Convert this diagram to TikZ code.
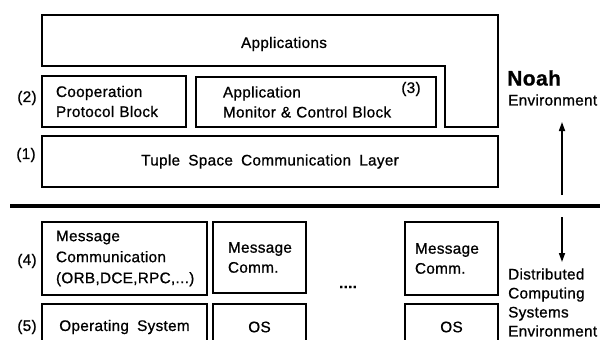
\documentclass[tikz,border=0pt]{standalone}
\usepackage{fontspec}
\setmainfont{Liberation Sans}[LetterSpace=2,WordSpace=1.8,FakeBold=0.8]
\usetikzlibrary{arrows.meta}
\begin{document}
\begin{tikzpicture}[x=1pt,y=-1pt,
  txt/.style={font=\fontsize{15.3}{20}\selectfont},
  box/.style={txt,draw,line width=1.8pt,rectangle,inner ysep=0pt},
  lbox/.style={box,align=left},
  cbox/.style={box,align=center},
  lbl/.style={txt,inner sep=0pt},
  arr/.style={line width=1.6pt,-{Triangle[length=9pt,width=6pt]}}]
\useasboundingbox (0,0) rectangle (600,340);
\clip (0,0) rectangle (600,340);
% Applications (L-shaped)
\draw[line width=1.8pt] (42,15) -- (498,15) -- (498,127) -- (445,127) -- (445,66) -- (42,66) -- cycle;
\node[lbl] (apps) at (284,44) {Applications};
% layer (2) and (3)
\node[lbox,minimum width=144pt,minimum height=51pt,text width=116pt,inner xsep=14pt] (coop) at (114,101.5) {Cooperation\\Protocol Block};
\node[lbox,minimum width=240pt,minimum height=50pt,text width=186pt,inner xsep=27pt] (amcb) at (316,102) {Application\\Monitor \& Control Block};
\node[lbl] (n3) at (411,89) {(3)};
% layer (1)
\node[cbox,minimum width=456pt,minimum height=51pt] (tuple) at (270,161.5) {Tuple Space Communication Layer};
% level labels
\node[lbl] (l2) at (27,98) {(2)};
\node[lbl] (l1) at (26,155) {(1)};
\node[lbl] (l4) at (27,261) {(4)};
\node[lbl] (l5) at (27,327) {(5)};
% separator
\coordinate (sepL) at (10,206);
\coordinate (sepR) at (600,206);
\draw[line width=4pt] (sepL) -- (sepR);
% Noah environment
\node[font=\bfseries\fontsize{21}{24}\selectfont,anchor=west,inner sep=0pt] (noah) at (507,78) {Noah};
\node[lbl,anchor=west] (noahenv) at (508,100) {Environment};
\coordinate (upS) at (562,195);
\coordinate (upE) at (562,122);
\draw[arr] (upS) -- (upE);
\coordinate (dnS) at (562,217);
\coordinate (dnE) at (562,262);
\draw[arr] (dnS) -- (dnE);
\node[lbl,anchor=west,align=left,font=\fontsize{15.3}{19}\selectfont] (dcse) at (508,302.5) {Distributed\\Computing\\Systems\\Environment};
% bottom layer (4)
\node[lbox,minimum width=165pt,minimum height=73pt,text width=137pt,inner xsep=14pt,font=\fontsize{15.3}{21}\selectfont] (mc1) at (124.5,258.5) {Message\\Communication\\(ORB,DCE,RPC,...)};
\node[lbox,minimum width=93pt,minimum height=71pt,text width=63pt,inner xsep=15pt] (mc2) at (259.5,257.5) {Message\\Comm.};
\node[lbox,minimum width=93pt,minimum height=73pt,text width=73pt,inner xsep=10pt] (mc3) at (451.5,258.5) {Message\\Comm.};
\node[lbl,font=\bfseries\fontsize{15}{20}\selectfont] (dots) at (348,287) {....};
% bottom layer (5)
\node[cbox,minimum width=165pt,minimum height=46pt] (os1) at (124.5,327) {Operating System};
\node[cbox,minimum width=93pt,minimum height=46pt] (os2) at (259.5,327) {OS};
\node[cbox,minimum width=93pt,minimum height=46pt] (os3) at (451.5,327) {OS};
\end{tikzpicture}
\end{document}
